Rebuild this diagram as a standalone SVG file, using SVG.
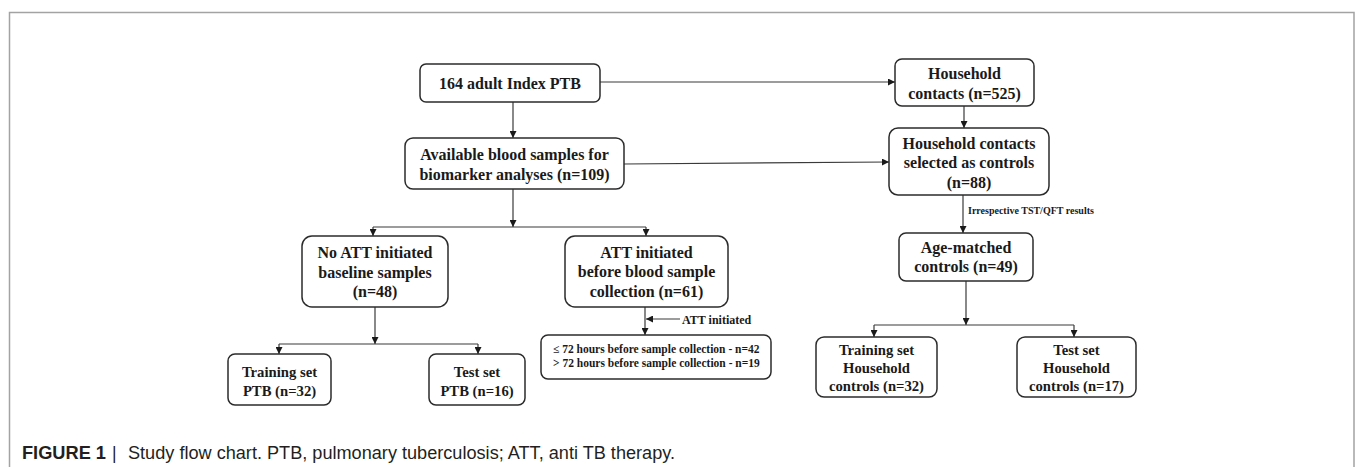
<svg xmlns="http://www.w3.org/2000/svg" width="1355" height="467" viewBox="0 0 1355 467">
<style>
.box{fill:#fff;stroke:#2b2b2b;stroke-width:1.5}
.t{font-family:"Liberation Serif","Times New Roman",serif;font-weight:bold;font-size:16px;fill:#1a1a1a;text-anchor:middle}
.ts{font-size:14.7px}
.c{fill:none;stroke:#3a3a3a;stroke-width:1.2}
.lbl{font-family:"Liberation Serif","Times New Roman",serif;font-weight:bold;fill:#1a1a1a}
.cap{font-family:"Liberation Sans",Arial,sans-serif;font-size:17.5px;fill:#231f20}
</style>
<defs>
<marker id="ah" viewBox="0 0 10 10" refX="10" refY="5" markerWidth="7" markerHeight="7" markerUnits="userSpaceOnUse" orient="auto">
<path d="M0,0 L10,5 L0,10 z" fill="#1a1a1a"/>
</marker>
</defs>
<path d="M9.5,467 V12.5 H1354 V467" fill="none" stroke="#a3a3a3" stroke-width="1.5"/>

<g id="connectors">
<path class="c" d="M513,102 V138" marker-end="url(#ah)"/>
<path class="c" d="M600,82 H895" marker-end="url(#ah)"/>
<path class="c" d="M624,164 L889,162" marker-end="url(#ah)"/>
<path class="c" d="M964,106 V128" marker-end="url(#ah)"/>
<path class="c" d="M963,195 V233" marker-end="url(#ah)"/>
<text class="lbl" x="968" y="214" font-size="10">Irrespective TST/QFT results</text>
<path class="c" d="M513,189 V227" marker-end="url(#ah)"/>
<path class="c" d="M373,227 H646"/>
<path class="c" d="M373,227 V236" marker-end="url(#ah)"/>
<path class="c" d="M646,227 V236" marker-end="url(#ah)"/>
<path class="c" d="M375,307 V344" marker-end="url(#ah)"/>
<path class="c" d="M279,344 H478"/>
<path class="c" d="M279,344 V354" marker-end="url(#ah)"/>
<path class="c" d="M478,344 V354" marker-end="url(#ah)"/>
<path class="c" d="M645,307 V335" marker-end="url(#ah)"/>
<path class="c" d="M680,319 H646" marker-end="url(#ah)"/>
<text class="lbl" x="682" y="323.5" font-size="12">ATT initiated</text>
<path class="c" d="M966,281 V325" marker-end="url(#ah)"/>
<path class="c" d="M874,325 H1074"/>
<path class="c" d="M874,325 V337" marker-end="url(#ah)"/>
<path class="c" d="M1074,325 V337" marker-end="url(#ah)"/>
</g>

<g id="n164">
<rect class="box" x="420" y="64" width="180" height="38" rx="6"/>
<text class="t" x="510" y="88.5">164 adult Index PTB</text>
</g>
<g id="nAvail">
<rect class="box" x="405" y="138" width="219" height="51" rx="8"/>
<text class="t" x="514.5" y="160">Available blood samples for</text>
<text class="t" x="514.5" y="179.5">biomarker analyses (n=109)</text>
</g>
<g id="nHC">
<rect class="box" x="895" y="59" width="139" height="47" rx="7"/>
<text class="t" x="964.5" y="79">Household</text>
<text class="t" x="964.5" y="99">contacts (n=525)</text>
</g>
<g id="nSel">
<rect class="box" x="889" y="128" width="160" height="67" rx="9"/>
<text class="t" x="969" y="149">Household contacts</text>
<text class="t" x="969" y="168">selected as controls</text>
<text class="t" x="969" y="187.5">(n=88)</text>
</g>
<g id="nAge">
<rect class="box" x="899" y="233" width="134" height="48" rx="7"/>
<text class="t" x="966" y="253">Age-matched</text>
<text class="t" x="966" y="272">controls (n=49)</text>
</g>
<g id="nNoATT">
<rect class="box" x="302" y="236" width="146" height="71" rx="10"/>
<text class="t" x="375" y="258">No ATT initiated</text>
<text class="t" x="375" y="277.5">baseline samples</text>
<text class="t" x="375" y="297">(n=48)</text>
</g>
<g id="nATT">
<rect class="box" x="565" y="236" width="163" height="71" rx="10"/>
<text class="t" x="646.5" y="257.5">ATT initiated</text>
<text class="t" x="646.5" y="277">before blood sample</text>
<text class="t" x="646.5" y="296.5">collection (n=61)</text>
</g>
<g id="nHours">
<rect class="box" x="541" y="335" width="230" height="44" rx="7"/>
<text class="lbl" x="553" y="353" font-size="11.5">≤ 72 hours before sample collection - n=42</text>
<text class="lbl" x="553" y="367" font-size="11.5">&gt; 72 hours before sample collection - n=19</text>
</g>
<g id="nTrainPTB">
<rect class="box" x="228" y="354" width="103" height="51" rx="7"/>
<text class="t ts" x="279.5" y="377">Training set</text>
<text class="t ts" x="279.5" y="395.5">PTB (n=32)</text>
</g>
<g id="nTestPTB">
<rect class="box" x="429" y="354" width="96" height="51" rx="7"/>
<text class="t ts" x="477" y="377">Test set</text>
<text class="t ts" x="477" y="395.5">PTB (n=16)</text>
</g>
<g id="nTrainHH">
<rect class="box" x="816" y="337" width="121" height="60" rx="8"/>
<text class="t ts" x="876.5" y="354.5">Training set</text>
<text class="t ts" x="876.5" y="372.5">Household</text>
<text class="t ts" x="876.5" y="390.5">controls (n=32)</text>
</g>
<g id="nTestHH">
<rect class="box" x="1017" y="337" width="119" height="60" rx="8"/>
<text class="t ts" x="1076.5" y="354.5">Test set</text>
<text class="t ts" x="1076.5" y="372.5">Household</text>
<text class="t ts" x="1076.5" y="390.5">controls (n=17)</text>
</g>

<g id="caption">
<text class="cap" x="22" y="459" font-weight="bold" textLength="84" lengthAdjust="spacingAndGlyphs">FIGURE 1</text>
<text class="cap" x="112" y="459" fill="#555">|</text>
<text class="cap" x="128" y="459" textLength="547" lengthAdjust="spacingAndGlyphs">Study flow chart. PTB, pulmonary tuberculosis; ATT, anti TB therapy.</text>
</g>
</svg>
